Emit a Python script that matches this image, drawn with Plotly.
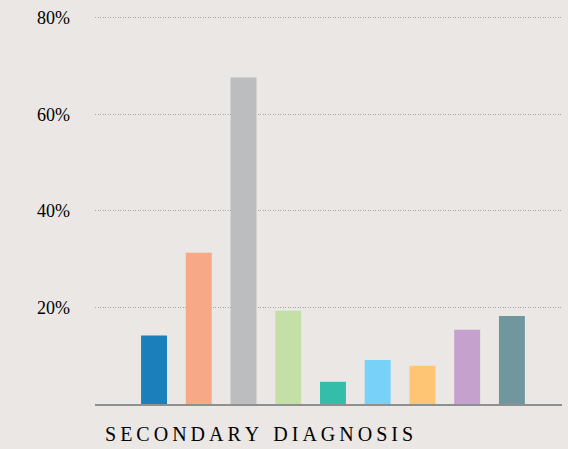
import plotly.graph_objects as go

categories = ["A", "B", "C", "D", "E", "F", "G", "H", "I"]
values = [14.2, 31.3, 67.6, 19.3, 4.6, 9.1, 7.9, 15.4, 18.2]
colors = ["#1b80b9", "#f7a887", "#bcbdbf", "#c4e0a6", "#34bda9",
          "#78d2f7", "#fdc574", "#c5a2cd", "#70979e"]
tick_vals = [20, 40, 60, 80]
tick_text = ["20%", "40%", "60%", "80%"]
x_title = "SECONDARY DIAGNOSIS"

fig = go.Figure(go.Bar(
    x=list(range(len(categories))), y=values,
    marker=dict(color=colors, line=dict(width=0)),
    width=0.58, hoverinfo="skip",
))

serif = "Liberation Serif, DejaVu Serif, serif"
gap = "\u2009"
spaced = (gap + "  ").join(gap.join(w) for w in x_title.split(" "))

fig.update_layout(
    width=568, height=449,
    margin=dict(l=95, r=6, t=8, b=45),
    paper_bgcolor="#eae7e4", plot_bgcolor="rgba(0,0,0,0)",
    showlegend=False,
    font=dict(family=serif, color="#000000"),
    xaxis=dict(range=[-1.32, 9.12], showticklabels=False, showgrid=False,
               zeroline=False, showline=True, linecolor="#8e8f91", linewidth=1.5,
               ticks=""),
    yaxis=dict(range=[0, 82], tickvals=tick_vals, ticktext=tick_text,
               showgrid=True, gridcolor="#a3a3a3", griddash="1px,1.5px", gridwidth=1,
               zeroline=False, showline=False, ticks="",
               ticklabelstandoff=24, layer="above traces",
               tickfont=dict(family=serif, size=18, color="#000000")),
    annotations=[dict(text=spaced, xref="paper", yref="paper", x=0.017, y=-0.076,
                      xanchor="left", yanchor="middle", showarrow=False,
                      font=dict(family=serif, size=20, color="#000000"))],
)

fig.write_html("out.html")
